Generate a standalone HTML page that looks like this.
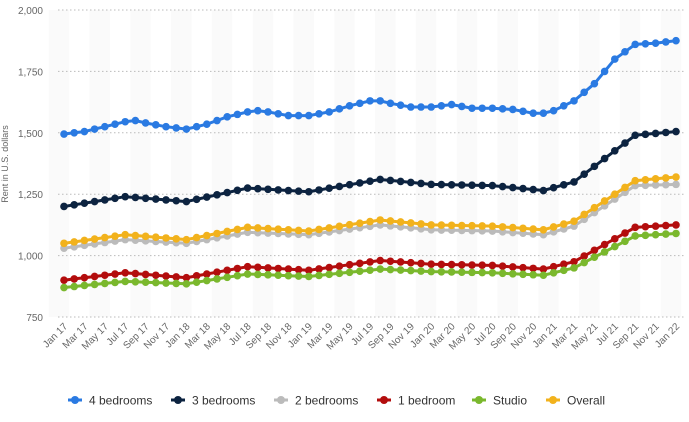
<!DOCTYPE html>
<html><head><meta charset="utf-8"><style>
body{margin:0;background:#fff;font-family:"Liberation Sans",sans-serif}
</style></head><body>
<svg id="c" width="689" height="417" xmlns="http://www.w3.org/2000/svg" font-family="Liberation Sans, sans-serif"></svg>
<script>
const svg=document.getElementById('c');
const X0=64,DX=10.2;
const yv=v=>10+(2000-v)*61.4/250;
let h='';
for(let i=0;i<31;i++){ if(i%2==0){ h+=`<rect x="${X0-5.1+i*20.4-10.2}" y="10" width="20.4" height="307" fill="#fafafa"/>`; } }
[2000,1750,1500,1250,1000,750].forEach(v=>{
 const y=yv(v);
 h+=`<line x1="58" x2="686" y1="${y}" y2="${y}" stroke="#bbb" stroke-dasharray="1.5,2.5"/>`;
 h+=`<text x="43" y="${y+4}" text-anchor="end" font-size="10" fill="#666">${v.toLocaleString('en-US')}</text>`;
});
h+=`<text transform="translate(8,164) rotate(-90)" text-anchor="middle" font-size="9" fill="#666">Rent in U.S. dollars</text>`;
const mn=['Jan','Mar','May','Jul','Sep','Nov'];
for(let i=0;i<31;i++){
 const x=X0+i*20.4, lab=mn[i%6]+' '+(17+Math.floor(i/6));
 h+=`<text transform="translate(${x+4},327) rotate(-45)" text-anchor="end" font-size="10" fill="#666">${lab}</text>`;
}
function interp(keys){const out=[];for(let m=0;m<=60;m++){for(let k=0;k<keys.length-1;k++){const [a,va]=keys[k],[b,vb]=keys[k+1];if(m>=a&&m<=b){out.push(va+(vb-va)*(m-a)/(b-a));break;}}}return out;}
const km=[0,6,12,18,24,31,36,42,47,50,56,60];
const mk=arr=>interp(km.map((m,i)=>[m,arr[i]]));
const four=interp([[0,1495],[2,1505],[4,1525],[6,1545],[7,1550],[8,1540],[10,1525],[12,1515],[14,1535],[16,1565],[18,1585],[19,1590],[20,1585],[22,1570],[24,1570],[26,1585],[28,1610],[30,1630],[31,1630],[32,1620],[34,1605],[36,1605],[38,1615],[40,1600],[42,1600],[44,1595],[46,1580],[47,1580],[48,1590],[50,1630],[52,1700],[54,1800],[56,1860],[58,1865],[60,1875]]);
const series=[
 ['#2a7ae2',four],
 ['#0c2340',mk([1200,1240,1220,1275,1260,1310,1290,1285,1265,1300,1490,1505])],
 ['#bbbbbb',mk([1030,1065,1050,1095,1085,1125,1105,1100,1085,1120,1285,1290])],
 ['#f2b21c',mk([1050,1085,1065,1115,1100,1145,1125,1120,1105,1140,1305,1320])],
 ['#b30d0d',mk([900,930,910,955,940,980,965,960,945,975,1115,1125])],
 ['#7ab82d',mk([870,895,885,925,915,945,935,930,920,950,1080,1090])],
];
series.forEach(([c,d])=>{
 const pts=d.map((v,i)=>`${(X0+i*DX).toFixed(1)},${yv(v).toFixed(1)}`);
 h+=`<polyline points="${pts.join(' ')}" fill="none" stroke="${c}" stroke-width="3"/>`;
 d.forEach((v,i)=>h+=`<circle cx="${X0+i*DX}" cy="${yv(v)}" r="3.8" fill="${c}"/>`);
});
const leg=[['4 bedrooms','#2a7ae2',68],['3 bedrooms','#0c2340',171],['2 bedrooms','#bbbbbb',274],['1 bedroom','#b30d0d',377],['Studio','#7ab82d',472],['Overall','#f2b21c',546]];
leg.forEach(([t,c,x])=>{
 h+=`<line x1="${x}" x2="${x+14}" y1="400" y2="400" stroke="${c}" stroke-width="3"/><circle cx="${x+7}" cy="400" r="4" fill="${c}"/>`;
 h+=`<text x="${x+21}" y="404.5" font-size="12" fill="#333">${t}</text>`;
});
svg.innerHTML=h;
</script>
</body></html>
